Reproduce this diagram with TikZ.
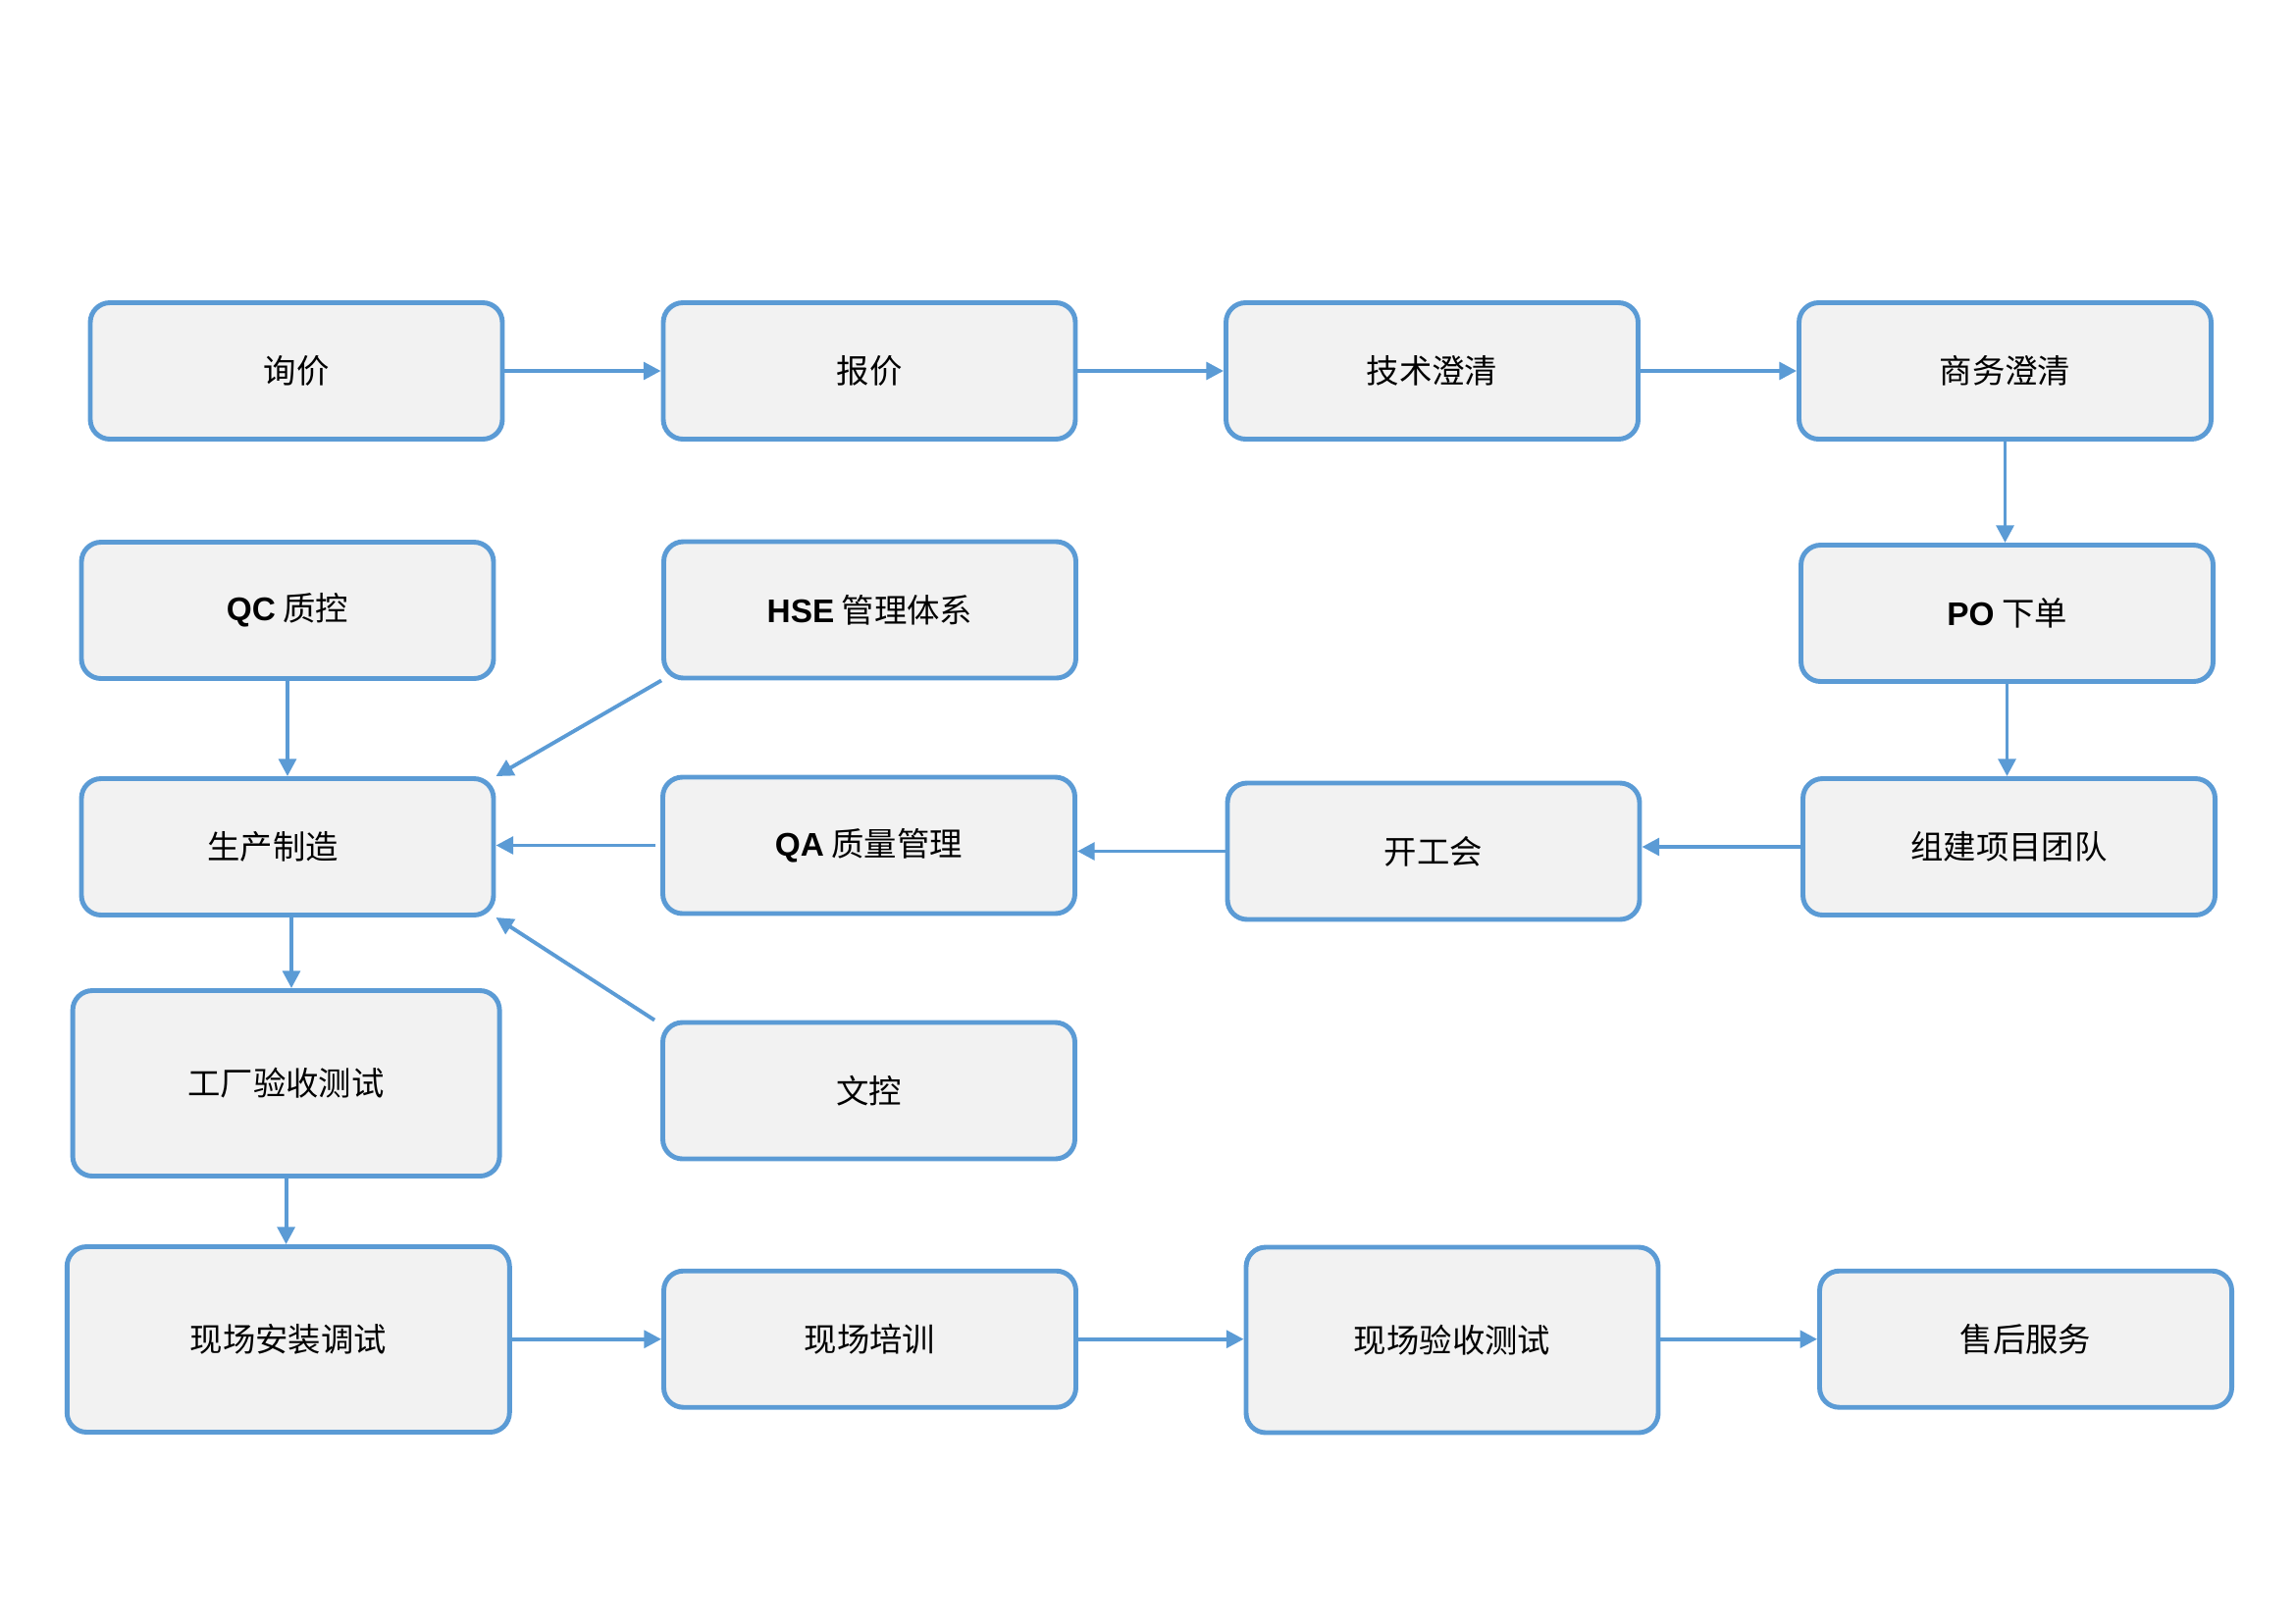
\documentclass[tikz,border=0pt]{standalone}
\usepackage{fontspec}
\usetikzlibrary{arrows.meta}
\newfontfamily\cjk{Noto Sans CJK SC}
\newfontfamily\lsans{Liberation Sans}
\newcommand{\lb}[1]{{\lsans\bfseries #1}}
\definecolor{boxblue}{RGB}{91,155,213}
\definecolor{boxgray}{RGB}{242,242,242}

\begin{document}
\begin{tikzpicture}[
    box/.style={draw=boxblue, fill=boxgray, line width=1.4pt, rounded corners=0.2cm,
        minimum width=4.20cm, minimum height=1.39cm, font=\cjk\fontsize{9.5}{11}\selectfont},
    bigbox/.style={box, minimum height=1.89cm},
    pil/.style={draw=boxblue, line width=1.1pt, -{Triangle[length=5pt,width=5pt]}}
]
    \useasboundingbox (0,0) rectangle (23.39,-16.54);

    %Rad 1
        \node[box] (xunjia) at (3.02,-3.78) {询价};
        \node[box] (baojia) at (8.86,-3.78) {报价};
        \node[box] (jishu) at (14.595,-3.78) {技术澄清};
        \node[box] (shangwu) at (20.435,-3.78) {商务澄清};

    %Rad 2
        \node[box] (qc) at (2.93,-6.22) {\lb{QC} 质控};
        \node[box] (hse) at (8.865,-6.215) {\lb{HSE} 管理体系};
        \node[box] (po) at (20.455,-6.25) {\lb{PO} 下单};

    %Rad 3
        \node[box] (prod) at (2.93,-8.63) {\hspace*{-0.3cm}生产制造};
        \node[box] (qa) at (8.855,-8.615) {\lb{QA} 质量管理};
        \node[box] (kickoff) at (14.61,-8.675) {开工会};
        \node[box] (team) at (20.475,-8.63) {组建项目团队};

    %Rad 4
        \node[bigbox, minimum width=4.35cm] (fat) at (2.916,-11.04) {工厂验收测试};
        \node[box] (doc) at (8.855,-11.115) {文控};

    %Rad 5
        \node[bigbox, minimum width=4.51cm] (install) at (2.938,-13.65) {现场安装调试};
        \node[box] (training) at (8.865,-13.647) {现场培训};
        \node[bigbox] (sat) at (14.80,-13.655) {现场验收测试};
        \node[box] (service) at (20.645,-13.647) {售后服务};

    %Piler
        \draw[pil] (xunjia) -- (baojia);
        \draw[pil] (baojia) -- (jishu);
        \draw[pil] (jishu) -- (shangwu);
        \draw[pil] (shangwu) -- (shangwu |- po.north);
        \draw[pil] (po) -- (po |- team.north);
        \draw[pil] (team.west) -- (kickoff.east |- team.west);
        \draw[pil] (kickoff.west) -- (qa.east |- kickoff.west);
        \draw[pil] ([xshift=-0.05cm]qa.west) -- (prod.east |- qa.west);
        \draw[pil] (qc) -- (prod);
        \draw[pil] (hse.south west) -- (prod.north east);
        \draw[pil] ([xshift=-0.06cm]doc.north west) -- (prod.south east);
        \draw[pil] ([xshift=0.04cm]prod.south) -- ([xshift=0.04cm]prod.south |- fat.north);
        \draw[pil] (fat) -- (fat |- install.north);
        \draw[pil] (install.east |- training.west) -- (training.west);
        \draw[pil] (training) -- (sat.west |- training);
        \draw[pil] (sat.east |- service.west) -- (service.west);

\end{tikzpicture}
\end{document}
